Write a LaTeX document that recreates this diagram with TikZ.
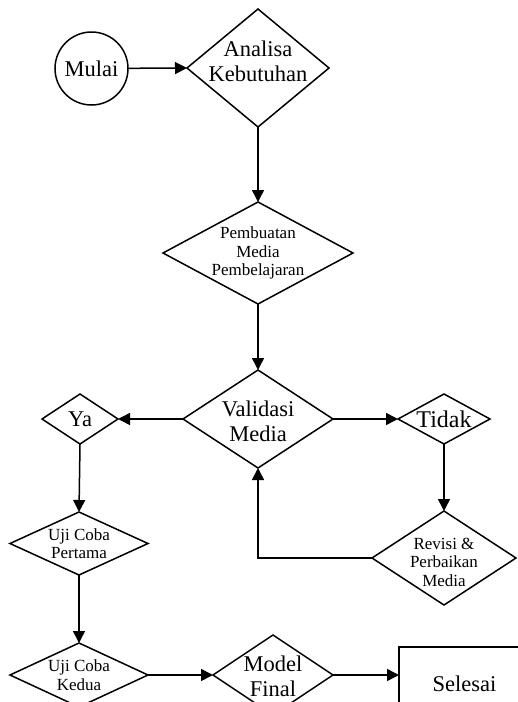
\documentclass[tikz,border=0pt]{standalone}
\usepackage{fontspec}
\setmainfont{Liberation Serif}
\usetikzlibrary{shapes.geometric,arrows.meta}
\begin{document}
\begin{tikzpicture}[x=1pt,y=-1pt,
  line width=1.5pt,
  dia/.style={shape=diamond,draw,inner sep=0pt,outer sep=0pt},
  big/.style={font=\fontsize{22.5}{25}\selectfont,align=center,inner sep=0pt},
  small/.style={font=\fontsize{17}{18.5}\selectfont,align=center,inner sep=0pt},
  arr/.style={-{Triangle[length=12pt,width=12pt]}}]
\useasboundingbox (0,0) rectangle (518,702);
\clip (0,0) rectangle (518,702);
\node[circle,draw,minimum size=73pt,inner sep=0pt,outer sep=0pt,font=\fontsize{22.5}{25}\selectfont] (mulai) at (91.5,68.5) {Mulai};
\node[dia,minimum width=142pt,minimum height=118pt,label={[big,yshift=7pt]center:Analisa\\Kebutuhan}] (ana) at (258,68) {};
\node[dia,minimum width=190pt,minimum height=102pt,label={[small]center:Pembuatan\\Media\\Pembelajaran}] (pem) at (258,253) {};
\node[dia,minimum width=150pt,minimum height=98pt,label={[big,yshift=-2pt]center:Validasi\\Media}] (val) at (258,419) {};
\node[dia,minimum width=76pt,minimum height=50pt,label={[big]center:Ya}] (ya) at (80,419) {};
\node[dia,minimum width=92pt,minimum height=50pt,label={[big,font=\fontsize{24}{25}\selectfont]center:Tidak}] (tidak) at (444,419) {};
\node[dia,minimum width=138pt,minimum height=63pt,label={[small]center:Uji Coba\\Pertama}] (uji1) at (79,543.5) {};
\node[dia,minimum width=144pt,minimum height=94pt,label={[small,yshift=-4pt]center:Revisi \&\\Perbaikan\\Media}] (rev) at (444,558) {};
\node[dia,minimum width=138pt,minimum height=64pt,label={[small]center:Uji Coba\\Kedua}] (uji2) at (79,675) {};
\node[dia,minimum width=120pt,minimum height=80pt,label={[big,yshift=-1pt]center:Model\\Final}] (model) at (273,675) {};
\node[rectangle,draw,minimum width=131pt,minimum height=73pt,inner sep=0pt,outer sep=0pt,font=\fontsize{22.5}{25}\selectfont] (sel) at (464.5,683.5) {Selesai};
\draw[arr] (mulai) -- (ana.west);
\draw[arr] (ana.south) -- (pem.north);
\draw[arr] (pem.south) -- (val.north);
\draw[arr] (val.west) -- (ya.east);
\draw[arr] (val.east) -- (tidak.west);
\draw[arr] (tidak.south) -- (rev.north);
\draw[arr] (rev.west) -| (val.south);
\draw[arr] (ya.south) -- (uji1.north);
\draw[arr] (uji1.south) -- (uji2.north);
\draw[arr] (uji2.east) -- (model.west);
\draw[arr] (model.east) -- (model.east -| sel.west);
\end{tikzpicture}
\end{document}
